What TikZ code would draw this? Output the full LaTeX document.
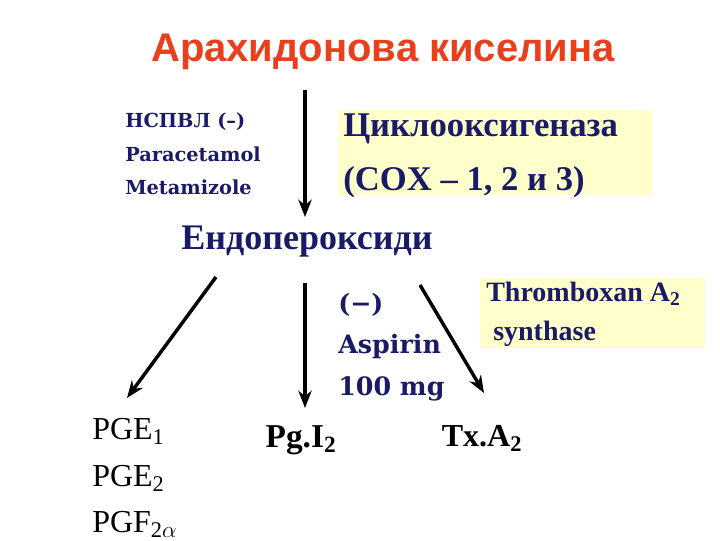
\documentclass[tikz,border=0pt]{standalone}
\usepackage{fontspec}
\setmainfont{Liberation Serif}
\newfontfamily\titlefont{Liberation Sans}
\newfontfamily\cambfont{DejaVu Serif}
\usetikzlibrary{arrows.meta}
\definecolor{navy}{HTML}{1A1A66}
\definecolor{titlered}{HTML}{E8401C}
\definecolor{paleyellow}{HTML}{FFFFCC}
\tikzset{
  arr/.style={line width=2.6pt,-{Stealth[length=13pt,width=10pt]},black},
  txt/.style={text=navy,font=\bfseries,inner sep=0pt},
  ybox/.style={fill=paleyellow,draw=none}
}
\begin{document}
\begin{tikzpicture}[x=0.75pt,y=-0.75pt]
\useasboundingbox[fill=white] (0,0) rectangle (720,540);
\node[text=titlered,font=\titlefont\bfseries\fontsize{30}{34}\selectfont] (title) at (383,52) {Арахидонова киселина};
\node[txt,align=left,anchor=north west,font=\cambfont\bfseries\fontsize{14.5}{25}\selectfont] (nsaid) at (125,113) {НСПВЛ (–)\\Paracetamol\\Metamizole};
\coordinate (a1s) at (305,90);
\coordinate (a1e) at (305,217);
\draw[arr] (a1s) -- (a1e);
\fill[ybox] (338,110) rectangle (652,195);
\node[txt,align=left,anchor=west,font=\bfseries\fontsize{26}{40}\selectfont] (cox) at (343,156) {Циклооксигеназа\\(COX – 1, 2 и 3)};
\node[txt,font=\bfseries\fontsize{27}{30}\selectfont] (endo) at (307,242) {Ендопероксиди};
\coordinate (b1s) at (216,277);
\coordinate (b1e) at (127,398);
\coordinate (b2s) at (305,283);
\coordinate (b2e) at (305,408);
\coordinate (b3s) at (420,285);
\coordinate (b3e) at (484,393);
\draw[arr] (b1s) -- (b1e);
\draw[arr] (b2s) -- (b2e);
\draw[arr] (b3s) -- (b3e);
\node[txt,align=left,anchor=north west,font=\cambfont\bfseries\fontsize{19}{31}\selectfont] (asp) at (338,293) {(−)\\Aspirin\\100 mg};
\fill[ybox] (480,278) rectangle (705,348);
\node[txt,align=left,anchor=north west,font=\bfseries\fontsize{21}{29}\selectfont] (txs) at (486,282) {Thromboxan A\textsubscript{2}\\\ synthase};
\node[text=black,align=left,anchor=north west,inner sep=0pt,font=\fontsize{24}{35}\selectfont] (pg) at (92,418) {PGE\textsubscript{1}\\PGE\textsubscript{2}\\PGF\textsubscript{2$\alpha$}};
\node[text=black,inner sep=0pt,font=\bfseries\fontsize{25}{28}\selectfont] (pgi) at (301,440) {Pg.I\textsubscript{2}};
\node[text=black,inner sep=0pt,font=\bfseries\fontsize{24}{28}\selectfont] (tx) at (482,438) {Tx.A\textsubscript{2}};
\end{tikzpicture}
\end{document}
